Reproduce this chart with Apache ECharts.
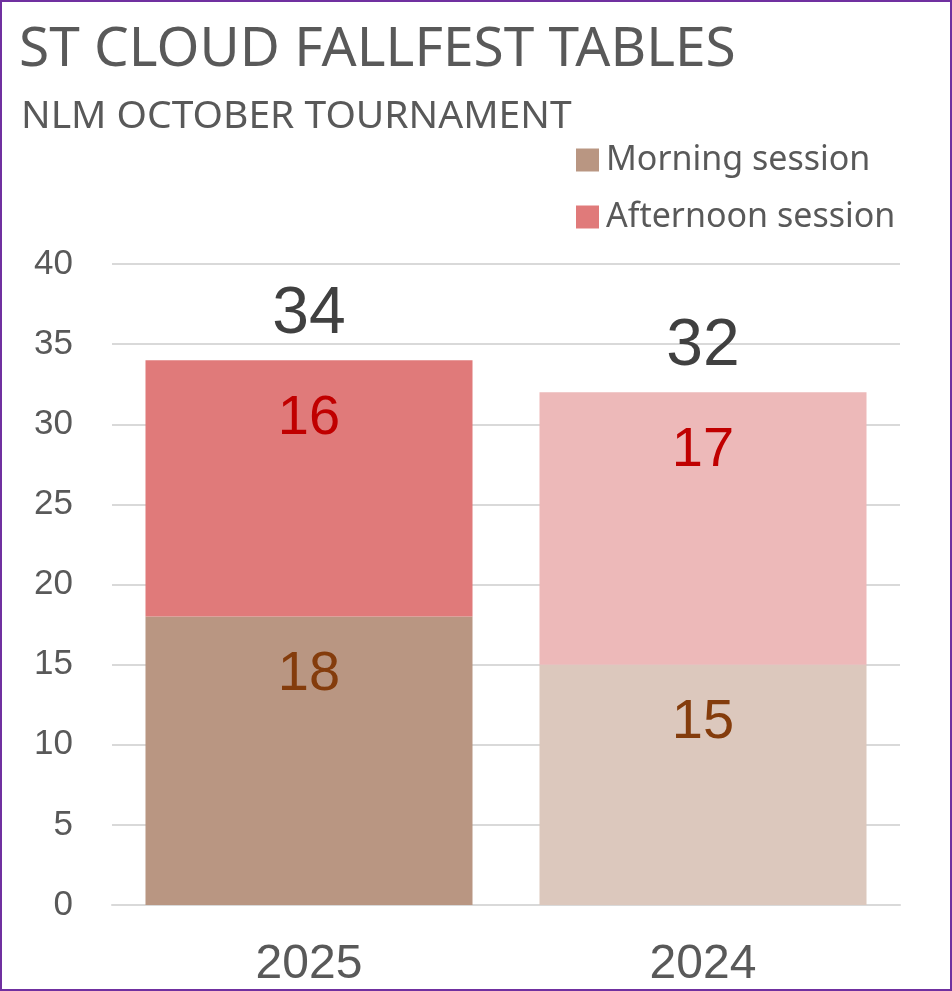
<!DOCTYPE html>
<html><head><meta charset="utf-8">
<script src="https://cdn.jsdelivr.net/npm/echarts@6/dist/echarts.min.js"></script>
<style>html,body{margin:0;padding:0;background:#fff}#c{width:952px;height:991px;box-sizing:border-box;border:2px solid #7030A0}</style>
</head><body><div id="c"></div>
<script>
const categories = ['2025', '2024'];
const morning = [18, 15];
const afternoon = [16, 17];
const totals = [34, 32];
const yTicks = [0, 5, 10, 15, 20, 25, 30, 35, 40];

const morningColors = ['#B99682', '#DCC8BD'];
const afternoonColors = ['#E07A7A', '#EDB9B9'];
const FONT = '"Noto Sans", sans-serif';
const NUM = '"Liberation Sans", Arial, sans-serif';

const chart = echarts.init(document.getElementById('c'));
chart.setOption({
  animation: false,
  title: [
    { text: 'ST CLOUD FALLFEST TABLES', left: 12, top: 16, textStyle: { fontFamily: FONT, fontSize: 55, fontWeight: 'normal', color: '#595959' } },
    { text: 'NLM OCTOBER TOURNAMENT', left: 14, top: 90, textStyle: { fontFamily: FONT, fontSize: 39, fontWeight: 'normal', color: '#595959' } }
  ],
  legend: {
    orient: 'vertical', left: 569, top: 133, itemGap: 17, itemWidth: 23, itemHeight: 23, align: 'left',
    icon: 'rect',
    data: ['Morning session', 'Afternoon session'],
    textStyle: { fontFamily: FONT, fontSize: 34, lineHeight: 40, color: '#595959', padding: [0, 0, 0, 2] }
  },
  grid: { left: 110, right: 50, top: 262, bottom: 84, containLabel: false },
  xAxis: {
    type: 'category', data: categories,
    axisLine: { lineStyle: { color: '#D9D9D9', width: 2 } },
    axisTick: { show: false },
    axisLabel: { fontFamily: NUM, fontSize: 48, color: '#595959', margin: 36 }
  },
  yAxis: {
    type: 'value', min: yTicks[0], max: yTicks[yTicks.length - 1], interval: 5,
    axisLine: { show: false }, axisTick: { show: false },
    splitLine: { lineStyle: { color: '#D9D9D9', width: 2 } },
    axisLabel: { fontFamily: NUM, fontSize: 35, color: '#595959', margin: 39 }
  },
  series: [
    {
      name: 'Morning session', type: 'bar', stack: 's', barCategoryGap: '17%',
      itemStyle: { color: morningColors[0] },
      data: morning.map((v, i) => ({ value: v, itemStyle: { color: morningColors[i] } })),
      label: { show: true, position: 'insideTop', distance: 30, fontFamily: NUM, fontSize: 56, color: '#843C0C' }
    },
    {
      name: 'Afternoon session', type: 'bar', stack: 's',
      itemStyle: { color: afternoonColors[0] },
      data: afternoon.map((v, i) => ({ value: v, itemStyle: { color: afternoonColors[i] } })),
      label: { show: true, position: 'insideTop', distance: 30, fontFamily: NUM, fontSize: 56, color: '#C00000' }
    },
    {
      name: 'Total', type: 'bar', stack: 's',
      data: totals.map(() => 0),
      itemStyle: { color: 'transparent' },
      label: { show: true, position: 'top', distance: 12, fontFamily: NUM, fontSize: 66, color: '#404040',
        formatter: p => String(totals[p.dataIndex]) }
    }
  ]
});
</script></body></html>
